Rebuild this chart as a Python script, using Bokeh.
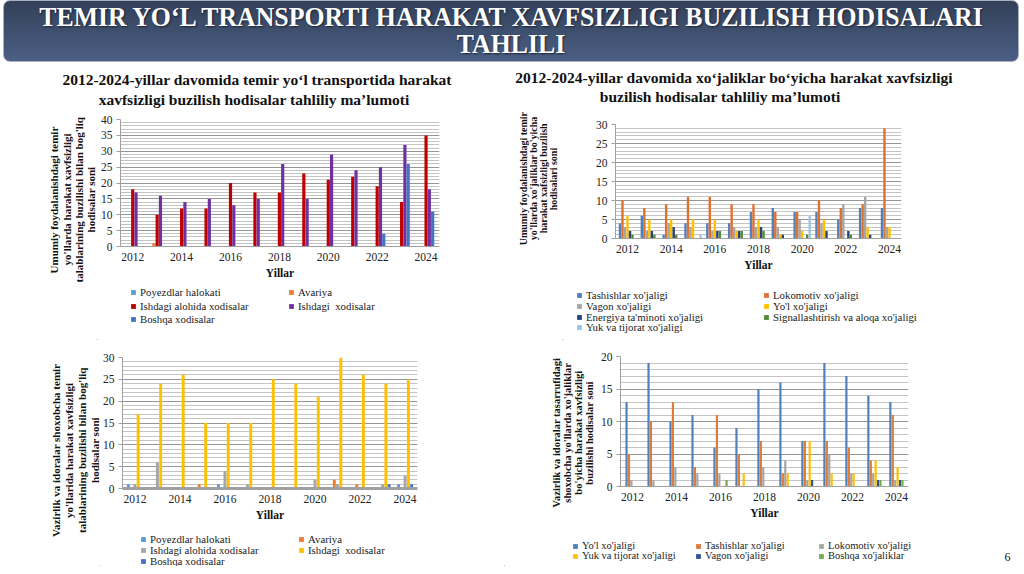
from bokeh.plotting import figure
from bokeh.models import (ColumnDataSource, Range1d, FixedTicker, SingleIntervalTicker,
                          Label, Legend, LegendItem, Div)
from bokeh.layouts import column, row
from bokeh.transform import dodge
from bokeh.embed import file_html
from bokeh.resources import INLINE

FONT = "Liberation Serif"

years = [2012, 2013, 2014, 2015, 2016, 2017, 2018, 2019, 2020, 2021, 2022, 2023, 2024]
year_ticks = [2012, 2014, 2016, 2018, 2020, 2022, 2024]

# ---- Chart 1: temir yo'l transporti ----
c1_names = ["Poyezdlar halokati", "Avariya", "Ishdagi alohida xodisalar", "Ishdagi  xodisalar", "Boshqa xodisalar"]
c1_poyezd = [0, 0, 0, 0, 0, 0, 0, 0, 0, 0, 0, 0, 0]
c1_avariya = [0, 1, 0, 0, 0, 0, 0, 0, 0, 0, 0, 0, 0]
c1_alohida = [18, 10, 12, 12, 20, 17, 17, 23, 21, 22, 19, 14, 35]
c1_ishdagi = [17, 16, 14, 15, 13, 15, 26, 15, 29, 24, 25, 32, 18]
c1_boshqa = [0, 0, 0, 0, 0, 0, 0, 0, 0, 0, 4, 26, 11]
c1_colors = ["#5B9BD5", "#ED7D31", "#C00000", "#7030A0", "#4472C4"]

# ---- Chart 2: xo'jaliklar bo'yicha ----
c2_names = ["Tashishlar xo'jaligi", "Lokomotiv xo'jaligi", "Vagon xo'jaligi", "Yo'l xo'jaligi",
            "Energiya ta'minoti xo'jaligi", "Signallashtirish va aloqa xo'jaligi", "Yuk va tijorat xo'jaligi"]
c2_tashish = [4, 6, 1, 4, 4, 4, 7, 8, 7, 7, 5, 8, 8]
c2_lokomotiv = [10, 8, 9, 11, 11, 9, 9, 7, 7, 10, 8, 9, 29]
c2_vagon = [3, 2, 4, 3, 2, 3, 3, 3, 5, 4, 9, 11, 3]
c2_yol = [6, 5, 5, 5, 5, 2, 5, 1, 2, 5, 0, 3, 3]
c2_energiya = [2, 2, 3, 0, 2, 2, 3, 1, 0, 2, 2, 1, 0]
c2_signal = [1, 1, 1, 0, 2, 2, 2, 0, 1, 0, 1, 0, 0]
c2_yuk = [0, 0, 0, 1, 0, 0, 0, 0, 6, 0, 0, 0, 0]
c2_colors = ["#4F81BD", "#E0702E", "#A5A5A5", "#FFC000", "#264478", "#4E8A3A", "#9DC3E6"]

# ---- Chart 3: vazirlik va idoralar shoxobcha yo'llari ----
c3_names = ["Poyezdlar halokati", "Avariya", "Ishdagi alohida xodisalar", "Ishdagi  xodisalar", "Boshqa xodisalar"]
c3_poyezd = [1, 0, 0, 0, 1, 0, 0, 0, 0, 0, 0, 0, 1]
c3_avariya = [0, 0, 0, 1, 0, 0, 0, 0, 0, 2, 1, 0, 0]
c3_alohida = [1, 6, 0, 0, 4, 1, 0, 0, 2, 1, 0, 1, 3]
c3_ishdagi = [17, 24, 26, 15, 15, 15, 25, 24, 21, 30, 26, 24, 25]
c3_boshqa = [0, 0, 0, 0, 0, 0, 0, 0, 0, 0, 0, 1, 1]
c3_colors = ["#5B9BD5", "#ED7D31", "#A5A5A5", "#FFC000", "#4472C4"]

# ---- Chart 4: vazirlik va idoralar xo'jaliklar bo'yicha ----
c4_names = ["Yo'l xo'jaligi", "Tashishlar xo'jaligi", "Lokomotiv xo'jaligi",
            "Yuk va tijorat xo'jaligi", "Vagon xo'jaligi", "Boshqa xo'jaliklar"]
c4_yol = [13, 19, 10, 11, 6, 9, 15, 16, 7, 19, 17, 14, 13]
c4_tashish = [5, 10, 13, 3, 11, 5, 7, 2, 7, 7, 6, 4, 11]
c4_lokomotiv = [1, 1, 3, 2, 2, 0, 3, 4, 1, 5, 2, 2, 1]
c4_yuk = [0, 0, 0, 0, 0, 2, 0, 2, 7, 2, 2, 4, 3]
c4_vagon = [0, 0, 0, 0, 0, 0, 0, 0, 1, 0, 0, 1, 1]
c4_boshqa = [0, 0, 0, 0, 1, 0, 0, 0, 0, 0, 0, 1, 1]
c4_colors = ["#4F81BD", "#E07B39", "#A5A5A5", "#FFC000", "#2E5597", "#70AD47"]


def make_fig(x0, y0, w, h, fl, ft, fr, fb, ymax, xr, axis_w=1):
    # (x0, y0) figure's top-left in page px; fl, ft, fr, fb: frame edges in page px
    p = figure(width=w, height=h, x_range=Range1d(*xr), y_range=Range1d(0, ymax),
               toolbar_location=None, output_backend="svg",
               min_border_left=fl - x0, min_border_top=ft - y0,
               min_border_right=x0 + w - fr, min_border_bottom=y0 + h - fb)
    p.frame_align = False
    p.outline_line_color = None
    p.background_fill_color = "white"
    p.border_fill_color = "white"
    p.xgrid.grid_line_color = None
    yt = SingleIntervalTicker(interval=5, num_minor_ticks=5)
    p.yaxis.ticker = yt
    p.ygrid.ticker = yt
    p.ygrid.grid_line_color = "#969696"
    p.ygrid.minor_grid_line_color = "#c4c4c4"
    p.xaxis.ticker = FixedTicker(ticks=year_ticks)
    for ax in (p.xaxis, p.yaxis):
        ax.axis_line_color = "#a0a0a0"
        ax.minor_tick_out = 0
        ax.minor_tick_in = 0
        ax.major_tick_in = 0
        ax.major_label_text_font = FONT
        ax.major_label_text_font_size = "11.5px"
        ax.major_label_text_color = "#222222"
        ax.major_tick_line_color = "#a0a0a0"
    p.xaxis.axis_line_width = axis_w
    p.xaxis.major_tick_out = 0
    p.xaxis.major_label_standoff = 6
    p.xaxis.axis_label = "Yillar"
    p.xaxis.axis_label_text_font = FONT
    p.xaxis.axis_label_text_font_style = "bold"
    p.xaxis.axis_label_text_font_size = "11.5px"
    p.xaxis.axis_label_text_color = "#111111"
    p.xaxis.axis_label_standoff = 3
    p.yaxis.major_tick_out = 4
    p.yaxis.major_label_standoff = 4
    return p


def add_bars(p, series, colors, center, step, width):
    data = {"year": years}
    for i, s in enumerate(series):
        data[f"s{i}"] = s
    src = ColumnDataSource(data)
    for i, c in enumerate(colors):
        p.vbar(x=dodge("year", (i - center) * step), top=f"s{i}", width=width, bottom=0,
               source=src, fill_color=c, line_color=None)


def legend_fig(x0, y0, w, h, names, colors, gx, rows_y, ncols, stride, font):
    # gx: page x of first legend square's left edge; rows_y: page y of each row's centre
    p = figure(width=w, height=h, x_range=Range1d(0, w), y_range=Range1d(0, h),
               toolbar_location=None, output_backend="svg", x_axis_type=None, y_axis_type=None,
               min_border=0, outline_line_color=None)
    p.frame_align = False
    p.background_fill_color = "white"
    p.border_fill_color = "white"
    # legend proxies, placed outside the visible range
    rends = [p.vbar(x=[-1000], top=[1], width=1, fill_color=c, line_color=None) for c in colors]
    LH = 14
    for r, yc in enumerate(rows_y):
        idx = list(range(r * ncols, min((r + 1) * ncols, len(names))))
        items = [LegendItem(label=names[i], renderers=[rends[i]]) for i in idx]
        leg = Legend(items=items, location=(gx - x0, (y0 + h) - (yc + LH / 2.0)), orientation="horizontal",
                     padding=0, margin=0, spacing=0, glyph_width=6, glyph_height=6,
                     label_standoff=4, label_width=int(stride - 10), label_height=LH,
                     label_text_font=FONT, label_text_font_size=f"{font}px", label_text_color="#222222",
                     label_text_line_height=1.0, label_text_baseline="middle",
                     border_line_alpha=0, background_fill_alpha=0)
        p.add_layout(leg)
    return p


def ylabel_div(w, h, cx, cy, lines, size, lh):
    dx = cx - w / 2.0
    dy = cy - h / 2.0
    html = (
        f'<div style="width:{w}px;height:{h}px;display:flex;align-items:center;justify-content:center;">'
        f'<div style="writing-mode:vertical-rl;transform:translate({dx}px,{dy}px) rotate(180deg);'
        f'font-family:\'{FONT}\',serif;font-weight:bold;font-size:{size}px;line-height:{lh}px;'
        f'text-align:center;white-space:nowrap;color:#111111;">' + "<br>".join(lines) + '</div></div>'
    )
    return Div(text=html, width=w, height=h, margin=0)


def subtitle_div(w, h, pad_top, lh, line_specs):
    inner = ""
    for text, pl, pr in line_specs:
        inner += (f'<div style="text-align:center;padding-left:{pl}px;padding-right:{pr}px;'
                  f'white-space:nowrap;">{text}</div>')
    html = (f'<div style="width:{w}px;height:{h}px;box-sizing:border-box;padding-top:{pad_top}px;'
            f'font-family:\'{FONT}\',serif;font-weight:bold;font-size:15.5px;line-height:{lh}px;'
            f'color:#111111;">{inner}</div>')
    return Div(text=html, width=w, height=h, margin=0)


# ---------- Title banner ----------
title_html = (
    '<div style="margin-left:3px;width:1016px;height:62px;box-sizing:border-box;border-radius:7px;'
    'border:1px solid #a9b0bd;background:linear-gradient(#334059,#4b5f84);'
    'color:#ffffff;font-family:\'Liberation Serif\',serif;font-weight:bold;font-size:27px;'
    'line-height:27px;text-align:center;padding-top:3px;text-shadow:1px 1px 2px #1a2233;overflow:hidden;">'
    '<div style="width:1200px;margin-left:-93px;transform:scaleX(0.955);transform-origin:50% 50%;'
    'white-space:nowrap;">'
    'TEMIR YO‘L TRANSPORTI HARAKAT XAVFSIZLIGI BUZILISH HODISALARI<br>TAHLILI</div></div>'
)
title = Div(text=title_html, width=1020, height=64, margin=0)

# ---------- Chart 1 (top-left) ----------
sub1 = subtitle_div(504, 46, 6, 20, [
    ("2012-2024-yillar davomida temir yo‘l transportida harakat", 10, 0),
    ("xavfsizligi buzilish hodisalar tahliliy ma’lumoti", 4, 0)])
yl1 = ylabel_div(97, 230, 72.75, 90, ["Umumiy foydalanishdagi temir", "yo'llarda harakat xavfsizligi",
                                      "talablarining buzilishi bilan bog'liq", "hodisalar soni"], 11, 12.3)
p1 = make_fig(97, 110, 407, 174, 119, 119, 439, 246, 40, (2011.5, 2024.55))
add_bars(p1, [c1_poyezd, c1_avariya, c1_alohida, c1_ishdagi, c1_boshqa], c1_colors, 2, 0.135, 0.13)
lg1 = legend_fig(97, 284, 407, 56, c1_names, c1_colors, 130, [292, 306, 319], 2, 158, 10.8)
left1 = column(sub1, row(yl1, column(p1, lg1)))

# ---------- Chart 2 (top-right) ----------
sub2 = subtitle_div(516, 42, 4, 19, [
    ("2012-2024-yillar davomida xo‘jaliklar bo‘yicha harakat xavfsizligi", 0, 56),
    ("buzilish hodisalar tahliliy ma’lumoti", 0, 84)])
yl2 = ylabel_div(58, 234, 35, 73, ["Umumiy foydalanishdagi temir", "yo'llarda  xo'jaliklar  bo'yicha",
                                   "harakat xafsizligi buzilish", "hodisalari  soni"], 10, 10)
p2 = make_fig(562, 106, 458, 178, 615, 124, 901, 238, 30, (2011.45, 2024.55))
add_bars(p2, [c2_tashish, c2_lokomotiv, c2_vagon, c2_yol, c2_energiya, c2_signal, c2_yuk],
         c2_colors, 3, 0.115, 0.11)
lg2 = legend_fig(562, 284, 458, 56, c2_names, c2_colors, 576, [295, 306, 316.5, 327], 2, 187, 10.8)
right1 = column(sub2, row(yl2, column(p2, lg2)))

# ---------- Chart 3 (bottom-left) ----------
yl3 = ylabel_div(99, 226, 75, 110, ["Vazirlik va idoralar  shoxobcha temir", "yo'llarida harakat xavfsizligi",
                                    "talablarining buzilishi bilan bog'liq", "hodisalar soni"], 11, 13)
p3 = make_fig(99, 340, 405, 187, 120, 357, 417, 488, 30, (2011.45, 2024.55), axis_w=3)
add_bars(p3, [c3_poyezd, c3_avariya, c3_alohida, c3_ishdagi, c3_boshqa], c3_colors, 2, 0.145, 0.13)
lg3 = legend_fig(99, 527, 405, 39, c3_names, c3_colors, 140, [539, 550, 560.5], 2, 158, 10.8)
left2 = row(yl3, column(p3, lg3))

# ---------- Chart 4 (bottom-right) ----------
yl4 = ylabel_div(93, 188, 69, 93, ["Vazirlik va idoralar tasarrufidagi", "shoxobcha yo'llarda xo'jaliklar",
                                   "bo'yicha harakat xavfsizligi", "buzilishi hodisalar soni"], 10.5, 11.3)
p4 = make_fig(597, 340, 423, 188, 619, 356, 908, 486, 20, (2011.45, 2024.55))
add_bars(p4, [c4_yol, c4_tashish, c4_lokomotiv, c4_yuk, c4_vagon, c4_boshqa], c4_colors, 2.5, 0.11, 0.1)
lg4 = legend_fig(504, 528, 516, 38, c4_names, c4_colors, 572, [545.5, 555.7], 3, 123, 10.5)
lg4.add_layout(Label(x=503, y=10, x_units="screen", y_units="screen", text="6",
                     text_font=FONT, text_font_size="12px", text_color="#111111",
                     text_align="center", text_baseline="middle"))
right2 = column(row(yl4, p4), lg4)

layout = column(title, row(left1, right1), row(left2, right2))
open("out.html", "w").write(file_html(layout, INLINE))
